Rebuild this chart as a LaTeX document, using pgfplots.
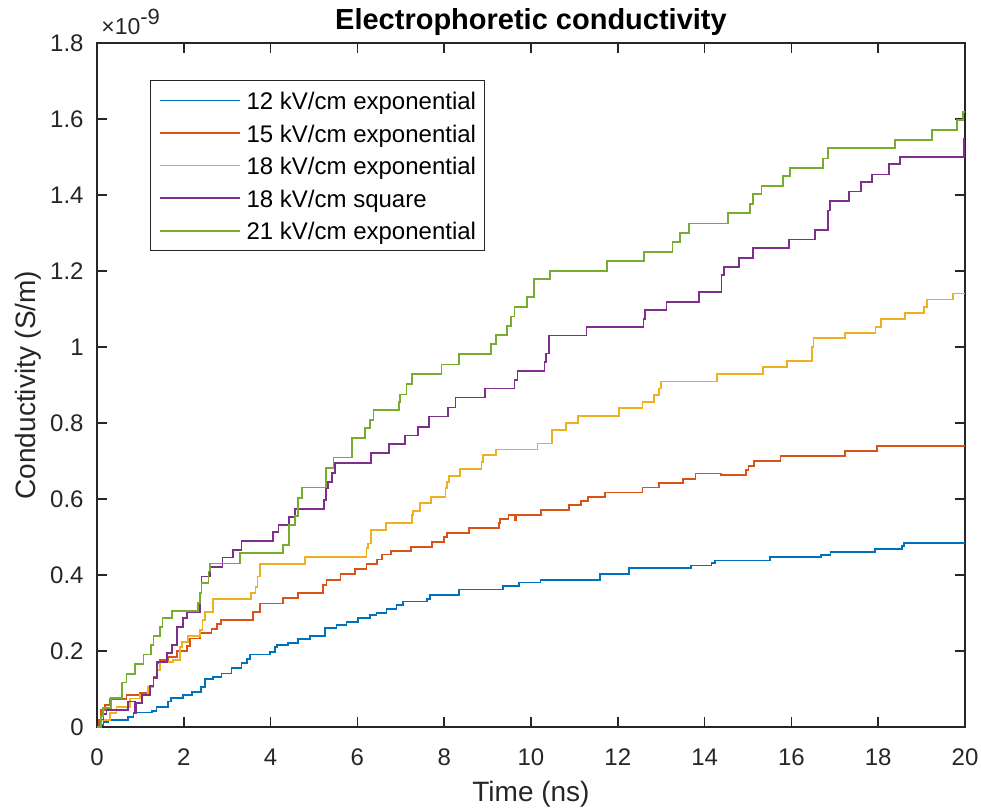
\documentclass[border=0pt]{standalone}
\usepackage{fontspec}
\setmainfont{Liberation Sans}
\usepackage{pgfplots}
\pgfplotsset{compat=1.18}
\definecolor{mblue}{HTML}{0072BD}
\definecolor{morange}{HTML}{D95319}
\definecolor{myellow}{HTML}{EDB120}
\definecolor{mpurple}{HTML}{7E2F8E}
\definecolor{mgreen}{HTML}{77AC30}
\definecolor{axgray}{gray}{0.15}

\begin{document}
\begin{tikzpicture}
\useasboundingbox (-48.5pt,-41pt) rectangle (442pt,363.5pt);
\begin{axis}[
  name=ax,
  at={(0,0)}, anchor=south west,
  scale only axis, width=434pt, height=342pt,
  xmin=0, xmax=20, ymin=0, ymax=1.8,
  xtick={0,2,4,6,8,10,12,14,16,18,20},
  ytick={0,0.2,0.4,0.6,0.8,1,1.2,1.4,1.6,1.8},
  yticklabels={0,0.2,0.4,0.6,0.8,1,1.2,1.4,1.6,1.8},
  tick align=inside,
  major tick length=5pt,
  axis line style={line width=0.75pt, draw=axgray},
  every tick/.style={line width=0.75pt, axgray},
  /pgf/number format/assume math mode=true,
  tick label style={font=\fontsize{12}{14}\selectfont, text=axgray},
  xticklabel style={anchor=base, yshift=-19pt},
  yticklabel style={anchor=east, inner sep=0pt, xshift=-6.5pt},
  title={Electrophoretic conductivity},
  title style={font=\fontsize{14.5}{17}\selectfont\bfseries, at={(axis description cs:0.5,1)}, anchor=base, yshift=0.5pt},
  xlabel={Time (ns)},
  ylabel={Conductivity (S/m)},
  label style={font=\fontsize{14}{16}\selectfont, text=axgray},
  xlabel style={at={(axis description cs:0.5,0)}, anchor=base, yshift=-37.4pt},
  ylabel style={at={(axis description cs:0,0.5)}, anchor=base, yshift=30.5pt},
  legend style={at={(0.0611,0.9459)}, anchor=north west, draw=axgray, line width=0.5pt,
    font=\fontsize{12}{14}\selectfont, inner xsep=4.25pt, inner ysep=4.5pt,
    row sep=5.3pt, column sep=3pt,
    nodes={inner sep=0pt, text height=10pt, text depth=1pt}},
  legend cell align=left,
  legend image code/.code={\draw[#1, line width=0.8pt] (0pt,0pt) -- (40pt,0pt);},
  every axis plot/.append style={line width=0.9pt, const plot mark left, no markers},
]
% 12 kV/cm exponential
\addplot[mblue] coordinates {
(0,0) (0.08,0.005) (0.15,0.014) (0.25,0.018) (0.72,0.027) (0.84,0.038) (1.26,0.043)
(1.37,0.053) (1.64,0.067) (1.70,0.077) (1.99,0.084) (2.18,0.093) (2.40,0.106) (2.49,0.126)
(2.68,0.132) (2.87,0.141) (3.10,0.156) (3.33,0.168) (3.45,0.178) (3.53,0.191) (3.99,0.198)
(4.10,0.21) (4.14,0.216) (4.41,0.222) (4.64,0.231) (4.91,0.24) (5.25,0.26) (5.52,0.268)
(5.75,0.277) (6.02,0.286) (6.29,0.295) (6.44,0.299) (6.67,0.31) (6.9,0.32) (7.05,0.33)
(7.60,0.337) (7.67,0.347) (8.35,0.362) (9.35,0.371) (9.72,0.38) (10.22,0.387) (11.59,0.403)
(12.26,0.418) (13.68,0.425) (14.16,0.431) (14.24,0.438) (15.51,0.447) (16.68,0.453)
(16.90,0.461) (17.93,0.469) (18.54,0.476) (18.60,0.485) (20,0.485)
};
\addlegendentry{12 kV/cm exponential}
% 15 kV/cm exponential
\addplot[morange] coordinates {
(0,0) (0.05,0.02) (0.1,0.045) (0.18,0.058) (0.30,0.073) (0.68,0.084) (0.99,0.089)
(1.20,0.106) (1.30,0.132) (1.37,0.168) (1.45,0.176) (1.64,0.185) (1.84,0.201) (2.07,0.213)
(2.14,0.233) (2.37,0.247) (2.64,0.257) (2.76,0.27) (2.85,0.282) (3.60,0.303) (3.76,0.325)
(4.28,0.34) (4.64,0.352) (5.21,0.374) (5.29,0.387) (5.61,0.402) (5.94,0.415) (6.21,0.428)
(6.46,0.441) (6.56,0.454) (6.77,0.464) (7.24,0.474) (7.71,0.486) (8.00,0.499) (8.06,0.51)
(8.58,0.523) (9.26,0.536) (9.29,0.547) (9.48,0.558) (9.62,0.545) (9.65,0.558) (10.23,0.571)
(10.88,0.584) (11.15,0.595) (11.31,0.606) (11.71,0.617) (12.57,0.63) (12.95,0.643)
(13.50,0.653) (13.79,0.667) (14.38,0.664) (14.95,0.676) (15.01,0.687) (15.14,0.70)
(15.75,0.713) (17.24,0.726) (17.98,0.739) (20,0.739)
};
\addlegendentry{15 kV/cm exponential}
% 18 kV/cm exponential
\addplot[myellow] coordinates {
(0,0) (0.1,0.018) (0.30,0.036) (0.45,0.053) (0.76,0.075) (0.99,0.084) (1.18,0.106)
(1.30,0.128) (1.37,0.15) (1.45,0.172) (1.76,0.176) (1.91,0.211) (1.95,0.224) (2.10,0.239)
(2.37,0.255) (2.43,0.282) (2.49,0.303) (2.68,0.336) (3.55,0.352) (3.65,0.369) (3.70,0.396)
(3.76,0.428) (4.79,0.447) (6.21,0.47) (6.25,0.483) (6.31,0.518) (6.65,0.536) (7.25,0.558)
(7.29,0.569) (7.44,0.589) (7.69,0.606) (8.03,0.628) (8.07,0.645) (8.11,0.661) (8.36,0.679)
(8.86,0.698) (8.90,0.716) (9.19,0.73) (10.15,0.746) (10.48,0.782) (10.80,0.801)
(11.08,0.819) (12.03,0.839) (12.57,0.856) (12.83,0.874) (12.95,0.891) (12.99,0.909)
(14.28,0.928) (15.35,0.947) (15.89,0.964) (16.48,1.001) (16.51,1.023) (17.24,1.036)
(17.94,1.053) (18.06,1.074) (18.62,1.089) (19.06,1.106) (19.12,1.125) (19.73,1.141)
(20,1.141)
};
\addlegendentry{18 kV/cm exponential}
% 18 kV/cm square
\addplot[mpurple] coordinates {
(0,0) (0.1,0.02) (0.15,0.035) (0.22,0.045) (0.72,0.067) (0.876,0.036) (0.91,0.064)
(1.03,0.084) (1.22,0.108) (1.30,0.128) (1.38,0.172) (1.61,0.194) (1.72,0.216) (1.85,0.264)
(1.99,0.286) (2.07,0.303) (2.37,0.352) (2.41,0.396) (2.60,0.422) (2.89,0.446) (3.14,0.466)
(3.33,0.489) (4.06,0.514) (4.18,0.532) (4.42,0.553) (4.56,0.574) (5.23,0.597) (5.27,0.628)
(5.33,0.645) (5.42,0.669) (5.48,0.694) (6.31,0.72) (6.73,0.745) (7.10,0.767) (7.39,0.79)
(7.65,0.817) (8.08,0.841) (8.26,0.867) (8.94,0.891) (9.62,0.913) (9.69,0.937) (10.31,0.961)
(10.34,0.983) (10.42,1.03) (11.28,1.053) (12.59,1.073) (12.63,1.097) (13.12,1.118)
(13.88,1.144) (14.39,1.189) (14.45,1.21) (14.80,1.235) (15.11,1.26) (15.95,1.283)
(16.55,1.308) (16.84,1.359) (16.89,1.384) (17.32,1.409) (17.60,1.435) (17.85,1.454)
(18.25,1.481) (18.51,1.501) (19.98,1.547) (20,1.547)
};
\addlegendentry{18 kV/cm square}
% 21 kV/cm exponential
\addplot[mgreen] coordinates {
(0,0) (0.1,0.03) (0.14,0.05) (0.32,0.076) (0.57,0.117) (0.68,0.139) (0.88,0.165)
(1.07,0.191) (1.24,0.216) (1.30,0.24) (1.45,0.264) (1.51,0.286) (1.72,0.306) (2.33,0.327)
(2.37,0.353) (2.41,0.379) (2.57,0.409) (2.60,0.43) (3.30,0.457) (4.29,0.479) (4.42,0.532)
(4.56,0.555) (4.64,0.602) (4.72,0.63) (5.28,0.682) (5.45,0.709) (5.87,0.761) (6.18,0.786)
(6.29,0.808) (6.37,0.834) (6.96,0.856) (6.98,0.875) (7.13,0.902) (7.25,0.929) (7.94,0.954)
(8.35,0.981) (9.08,1.007) (9.19,1.032) (9.44,1.055) (9.54,1.08) (9.62,1.106) (9.91,1.132)
(10.07,1.178) (10.44,1.2) (11.76,1.226) (12.61,1.251) (13.26,1.277) (13.43,1.299)
(13.64,1.325) (14.53,1.352) (15.05,1.376) (15.11,1.402) (15.31,1.424) (15.80,1.449)
(15.97,1.471) (16.72,1.496) (16.84,1.523) (18.39,1.545) (19.24,1.571) (19.81,1.597)
(19.95,1.618) (20,1.618)
};
\addlegendentry{21 kV/cm exponential}
\end{axis}
\node[anchor=base west, inner sep=0pt, text=axgray, font=\fontsize{11.5}{13}\selectfont]
  at ([xshift=2pt,yshift=4pt]ax.north west) {×10\raisebox{5pt}{\fontsize{11}{13}\selectfont -9}};
\end{tikzpicture}
\end{document}
